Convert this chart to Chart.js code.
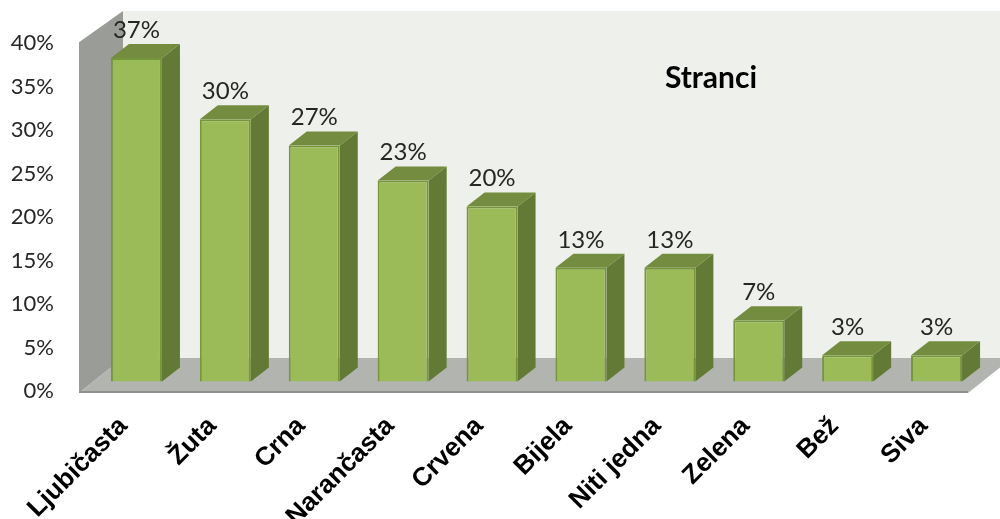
<!DOCTYPE html>
<html>
<head>
<meta charset="utf-8">
<script src="https://cdn.jsdelivr.net/npm/chart.js@4"></script>
<style>
  body { margin: 0; background: #fff; }
  canvas { display: block; }
</style>
</head>
<body>
<canvas id="grafico" width="1000" height="519"></canvas>
<script>
const kategorije = ['Ljubičasta', 'Žuta', 'Crna', 'Narančasta', 'Crvena', 'Bijela', 'Niti jedna', 'Zelena', 'Bež', 'Siva'];
const vrijednosti = [37, 30, 27, 23, 20, 13, 13, 7, 3, 3];
const naslov = 'Stranci';

// dubina 3D prikaza
const zidDx = 44, zidDy = 35;
const stupacDx = 18, stupacDy = 14;

function poligon(ctx, tocke, boja) {
    ctx.fillStyle = boja;
    ctx.beginPath();
    tocke.forEach((t, i) => i ? ctx.lineTo(t[0], t[1]) : ctx.moveTo(t[0], t[1]));
    ctx.closePath();
    ctx.fill();
}

const plugin3d = {
    id: 'prikaz3d',
    beforeDatasetsDraw(chart) {
        const ctx = chart.ctx;
        const a = chart.chartArea;
        const lijevo = a.left - 13, desno = a.right - 13;
        const dno = a.bottom + 2, vrh = a.top - 1;
        const zadnjeDno = dno - zidDy;

        ctx.save();
        // zadnji zid
        poligon(ctx, [[lijevo + zidDx, 11], [1000, 11], [1000, zadnjeDno], [lijevo + zidDx, zadnjeDno]], '#eef1eb');
        // lijevi zid
        poligon(ctx, [[lijevo, vrh], [lijevo + zidDx, 11], [lijevo + zidDx, zadnjeDno], [lijevo, dno]], '#9a9c97');
        // pod
        poligon(ctx, [[lijevo, dno], [lijevo + zidDx, zadnjeDno], [desno + zidDx, zadnjeDno], [desno, dno]], '#b2b5af');
        poligon(ctx, [[lijevo, dno - 2], [desno, dno - 2], [desno, dno], [lijevo, dno]], '#8f918d');

        // gornja i bočna strana stupaca
        chart.getDatasetMeta(0).data.forEach(bar => {
            const d = bar.x + bar.width / 2, l = bar.x - bar.width / 2;
            const strana = [[d, bar.y], [d + stupacDx, bar.y - stupacDy], [d + stupacDx, bar.base - stupacDy], [d, bar.base]];
            const gore = [[l, bar.y], [l + stupacDx, bar.y - stupacDy], [d + stupacDx, bar.y - stupacDy], [d, bar.y]];
            poligon(ctx, strana, '#637a36');
            poligon(ctx, gore, '#738c3f');
        });
        ctx.restore();
    },
    afterDatasetsDraw(chart) {
        const ctx = chart.ctx;
        ctx.save();
        ctx.fillStyle = '#262626';
        ctx.font = '24px Lato';
        ctx.textAlign = 'center';
        ctx.textBaseline = 'middle';
        chart.getDatasetMeta(0).data.forEach((bar, i) => {
            ctx.fillText(vrijednosti[i] + '%', bar.x, bar.y - 28);
        });
        ctx.fillStyle = '#000';
        ctx.font = 'bold 30px Lato';
        ctx.fillText(naslov, 711, 78);
        ctx.restore();
    }
};

new Chart(document.getElementById('grafico'), {
    type: 'bar',
    data: {
        labels: kategorije,
        datasets: [{
            data: vrijednosti,
            yAxisID: 'yStupci',
            backgroundColor: '#9bbb59',
            borderColor: '#76963c',
            borderWidth: 2,
            barPercentage: 0.574,
            categoryPercentage: 1
        }]
    },
    options: {
        responsive: false,
        animation: false,
        layout: { padding: { top: 41, right: 19, left: 0, bottom: 0 } },
        plugins: {
            legend: { display: false },
            title: { display: false },
            tooltip: { enabled: false }
        },
        scales: {
            x: {
                grid: { display: false },
                border: { display: false },
                afterFit: s => { s.height = 128; },
                ticks: {
                    autoSkip: false,
                    minRotation: 45,
                    maxRotation: 45,
                    padding: 12,
                    labelOffset: -13,
                    color: '#000',
                    font: { family: 'Liberation Sans', size: 26, weight: 'bold' }
                }
            },
            y: {
                position: 'left',
                min: 0,
                max: 40,
                grid: { display: false },
                border: { display: false },
                afterFit: s => { s.width = 92; },
                ticks: {
                    stepSize: 5,
                    padding: 30,
                    color: '#262626',
                    font: { family: 'Lato', size: 22 },
                    callback: v => v + '%'
                }
            },
            // stupci stoje malo iznad prednjeg ruba poda
            yStupci: {
                display: false,
                min: -1.1,
                max: 38.7
            }
        }
    },
    plugins: [plugin3d]
});
</script>
</body>
</html>
